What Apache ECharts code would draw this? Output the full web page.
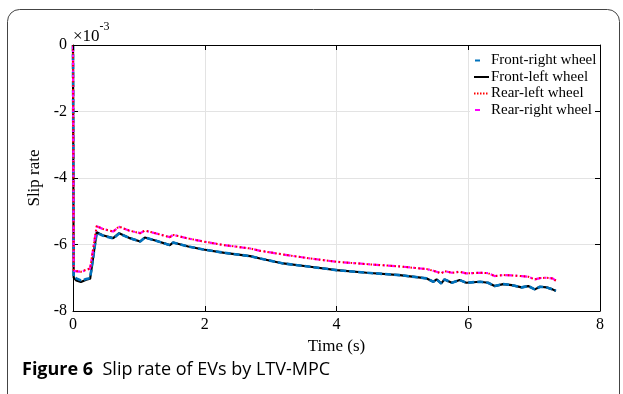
<!DOCTYPE html>
<html>
<head>
<meta charset="utf-8">
<script src="https://cdn.jsdelivr.net/npm/echarts@6/dist/echarts.min.js"></script>
<style>
html,body{margin:0;padding:0;background:#fff;}
#c{width:623px;height:394px;}
</style>
</head>
<body>
<div id="c"></div>
<script>
// Time (s)
var time = [0, 0.01, 0.05, 0.12, 0.2, 0.26, 0.36, 0.45, 0.61, 0.7, 0.85, 1.02, 1.09, 1.25, 1.47, 1.52, 1.75, 1.98, 2.3, 2.69, 2.84, 3.19, 3.6, 4.0, 4.46, 4.96, 5.37, 5.47, 5.52, 5.59, 5.64, 5.75, 5.87, 5.97, 6.18, 6.30, 6.40, 6.53, 6.66, 6.81, 6.91, 7.01, 7.09, 7.19, 7.28, 7.33];
// Slip rate (x10^-3)
var frontRight = [0, -6.97, -7.02, -7.08, -7.04, -7.01, -5.65, -5.73, -5.82, -5.67, -5.80, -5.91, -5.79, -5.88, -6.02, -5.94, -6.06, -6.15, -6.25, -6.35, -6.42, -6.57, -6.67, -6.77, -6.85, -6.92, -7.02, -7.12, -7.05, -7.17, -7.05, -7.15, -7.07, -7.15, -7.12, -7.15, -7.25, -7.19, -7.22, -7.29, -7.25, -7.35, -7.27, -7.29, -7.35, -7.39];
var frontLeft  = [0, -6.99, -7.08, -7.13, -7.06, -7.03, -5.63, -5.72, -5.81, -5.66, -5.80, -5.91, -5.79, -5.88, -6.02, -5.94, -6.06, -6.15, -6.25, -6.35, -6.42, -6.57, -6.67, -6.77, -6.85, -6.92, -7.02, -7.12, -7.05, -7.17, -7.05, -7.15, -7.07, -7.15, -7.12, -7.15, -7.25, -7.19, -7.22, -7.29, -7.25, -7.35, -7.27, -7.29, -7.35, -7.40];
var rearLeft   = [0, -6.77, -6.80, -6.82, -6.76, -6.72, -5.44, -5.53, -5.61, -5.46, -5.58, -5.66, -5.58, -5.66, -5.78, -5.71, -5.82, -5.91, -6.02, -6.12, -6.19, -6.30, -6.42, -6.52, -6.59, -6.66, -6.74, -6.79, -6.82, -6.87, -6.80, -6.85, -6.82, -6.87, -6.85, -6.86, -6.95, -6.92, -6.93, -6.95, -6.97, -7.05, -7.01, -7.00, -7.02, -7.09];
var rearRight  = [0, -6.78, -6.81, -6.82, -6.77, -6.72, -5.45, -5.53, -5.61, -5.47, -5.58, -5.66, -5.58, -5.66, -5.78, -5.71, -5.82, -5.91, -6.02, -6.12, -6.19, -6.30, -6.42, -6.52, -6.59, -6.66, -6.74, -6.79, -6.82, -6.87, -6.80, -6.85, -6.82, -6.87, -6.85, -6.86, -6.95, -6.92, -6.93, -6.95, -6.97, -7.05, -7.01, -7.00, -7.02, -7.09];
var seriesNames = ['Front-right wheel', 'Front-left wheel', 'Rear-left wheel', 'Rear-right wheel'];
var xTicks = [0, 2, 4, 6, 8];
var yTicks = [0, -2, -4, -6, -8];

function pairs(t, v) { return t.map(function (x, i) { return [x, v[i]]; }); }

var serif = 'Liberation Serif';
// legend line-style glyphs (bounding box kept at 15x2 by degenerate corner points)
var iconDash = 'path://M0,0 L0,0 M1,0 L6,0 L6,2 L1,2 Z M15,2 L15,2';
var iconSolid = 'path://M0,0 L15,0 L15,2 L0,2 Z';
var iconDot = 'path://M0,0 L1.5,0 L1.5,2 L0,2 Z M3,0 L4.5,0 L4.5,2 L3,2 Z M6,0 L7.5,0 L7.5,2 L6,2 Z M9,0 L10.5,0 L10.5,2 L9,2 Z M12,0 L13.5,0 L13.5,2 L12,2 Z M15,2 L15,2';
var legendIcons = [iconDash, iconSolid, iconDot, iconDash];

var chart = echarts.init(document.getElementById('c'), null, {renderer: 'canvas'});
var axisCommon = {
  axisLine: {show: true, onZero: false, lineStyle: {color: '#000', width: 1}},
  axisTick: {show: true, inside: true, length: 5, lineStyle: {color: '#000'}},
  splitLine: {show: false}
};
chart.setOption({
  animation: false,
  backgroundColor: '#fff',
  grid: {left: 73, top: 45, right: 23, bottom: 83, containLabel: false},
  legend: {
    data: seriesNames.map(function (n, i) { return {name: n, icon: legendIcons[i]}; }),
    orient: 'vertical',
    left: 470, top: 47,
    padding: [6, 4, 6, 4],
    itemGap: 1.5,
    itemWidth: 15, itemHeight: 15,
    backgroundColor: '#fff',
    textStyle: {fontFamily: serif, fontSize: 15, color: '#000', padding: [0, 0, 0, -3]}
  },
  xAxis: [
    Object.assign({}, axisCommon, {
      type: 'value', min: 0, max: 8, interval: 2, position: 'bottom',
      name: 'Time (s)', nameLocation: 'middle', nameGap: 26,
      nameTextStyle: {fontFamily: serif, fontSize: 17, color: '#000'},
      axisLabel: {fontFamily: serif, fontSize: 16, color: '#000', margin: 6,
        formatter: function (v) { return xTicks.indexOf(v) >= 0 ? String(v) : ''; }},
      splitLine: {show: true, lineStyle: {color: '#e3e3e3', width: 1}}
    }),
    Object.assign({}, axisCommon, {
      type: 'value', min: 0, max: 8, interval: 2, position: 'top', z: 10,
      axisLabel: {show: false}
    })
  ],
  yAxis: [
    Object.assign({}, axisCommon, {
      type: 'value', min: -8, max: 0, interval: 2, position: 'left',
      name: 'Slip rate', nameLocation: 'middle', nameGap: 25, nameRotate: 90,
      nameTextStyle: {fontFamily: serif, fontSize: 17, color: '#000'},
      axisLabel: {fontFamily: serif, fontSize: 16, color: '#000', margin: 6,
        formatter: function (v) { return yTicks.indexOf(v) >= 0 ? String(v) : ''; }},
      splitLine: {show: true, lineStyle: {color: '#e3e3e3', width: 1}}
    }),
    Object.assign({}, axisCommon, {
      type: 'value', min: -8, max: 0, interval: 2, position: 'right', z: 10,
      axisLabel: {show: false}
    })
  ],
  graphic: [
    {type: 'rect', left: 5, top: 7, shape: {width: 612, height: 400, r: 12}, silent: true, z: -10,
      style: {fill: 'none', stroke: '#444', lineWidth: 1}},
    {type: 'text', left: 73, top: 21, z: 10,
      style: {text: '{a|\u00d710}{b|-3}', rich: {
        a: {fontFamily: serif, fontSize: 17, color: '#000', verticalAlign: 'bottom', padding: [7, 0, 0, 0]},
        b: {fontFamily: serif, fontSize: 12, color: '#000', verticalAlign: 'top', padding: [0, 0, 6, 0]}
      }}},
    {type: 'text', left: 22, top: 361, z: 10,
      style: {text: '{a|Figure 6}{b|  Slip rate of EVs by LTV-MPC}', rich: {
        a: {fontFamily: 'Open Sans', fontSize: 18, fontWeight: 'bold', color: '#000'},
        b: {fontFamily: 'Open Sans', fontSize: 18, color: '#222'}
      }}}
  ],
  series: [
    {name: 'Front-left wheel', type: 'line', data: pairs(time, frontLeft), showSymbol: false, symbol: 'none',
      color: '#000', lineStyle: {color: '#000', width: 2.2, type: 'solid'}, z: 2},
    {name: 'Front-right wheel', type: 'line', data: pairs(time, frontRight), showSymbol: false, symbol: 'none',
      color: '#0072BD', lineStyle: {color: '#0072BD', width: 2.6, type: [6, 3]}, z: 3},
    {name: 'Rear-right wheel', type: 'line', data: pairs(time, rearRight), showSymbol: false, symbol: 'none',
      color: '#FF00FF', lineStyle: {color: '#FF00FF', width: 2.2, type: [7, 3, 2, 3]}, z: 4},
    {name: 'Rear-left wheel', type: 'line', data: pairs(time, rearLeft), showSymbol: false, symbol: 'none',
      color: '#FF0000', lineStyle: {color: '#FF0000', width: 2, type: [1.5, 2.5]}, z: 5}
  ]
});
</script>
</body>
</html>
